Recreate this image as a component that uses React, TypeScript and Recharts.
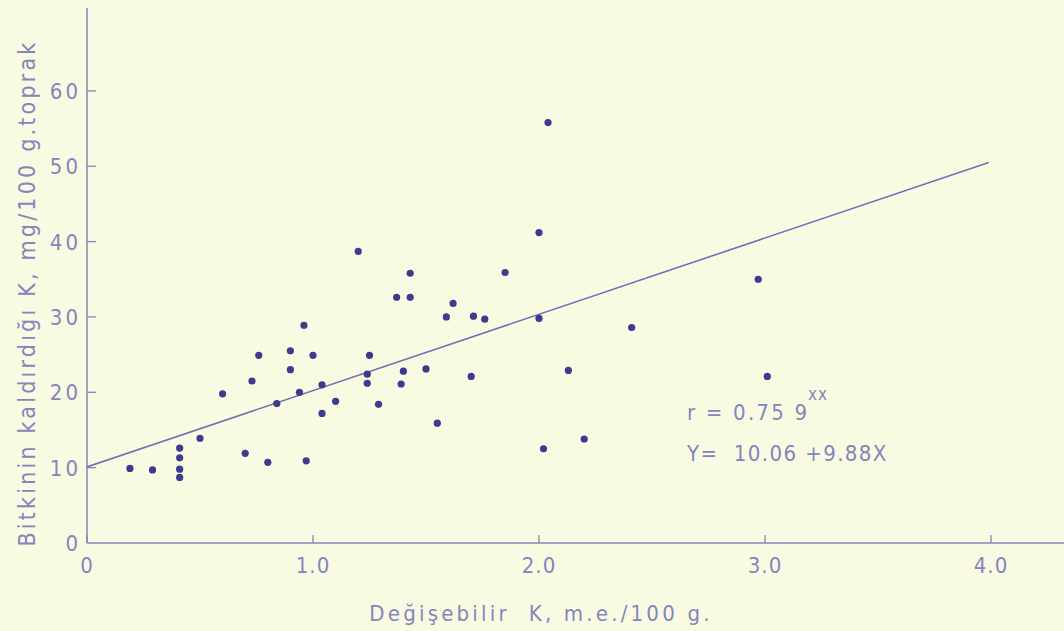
import React from 'react';
import { ScatterChart, Scatter, XAxis, YAxis } from 'recharts';

// exchangeable K (m.e./100 g) vs K taken up by plants (mg/100 g soil)
const exchK = [
  0.19, 0.29, 0.41, 0.41, 0.41, 0.41, 0.50, 0.60, 0.70, 0.73, 0.76, 0.80,
  0.84, 0.90, 0.90, 0.94, 0.96, 0.97, 1.00, 1.04, 1.04, 1.10, 1.20, 1.24,
  1.24, 1.25, 1.29, 1.37, 1.39, 1.40, 1.43, 1.43, 1.50, 1.55, 1.59, 1.62,
  1.70, 1.71, 1.76, 1.85, 2.00, 2.00, 2.02, 2.04, 2.13, 2.20, 2.41, 2.97, 3.01,
];
const plantK = [
  9.9, 9.7, 12.6, 11.3, 9.8, 8.7, 13.9, 19.8, 11.9, 21.5, 24.9, 10.7,
  18.5, 23.0, 25.5, 20.0, 28.9, 10.9, 24.9, 21.0, 17.2, 18.8, 38.7, 22.4,
  21.2, 24.9, 18.4, 32.6, 21.1, 22.8, 32.6, 35.8, 23.1, 15.9, 30.0, 31.8,
  22.1, 30.1, 29.7, 35.9, 29.8, 41.2, 12.5, 55.8, 22.9, 13.8, 28.6, 35.0, 22.1,
];

// regression line endpoints
const lineX = [0, 3.99];
const lineY = [10.1, 50.5];

const xTicks = [0, 1, 2, 3, 4];
const yTicks = [0, 10, 20, 30, 40, 50, 60];

const points = exchK.map((x, i) => ({ x, y: plantK[i] }));
const regression = lineX.map((x, i) => ({ x, y: lineY[i] }));

const BG = '#f8fbe1';
const INK = '#8386bd';
const DOT = '#3c3b8e';
const FONT = '"DejaVu Sans Condensed", "DejaVu Sans", sans-serif';

const XTick = (props: any) => {
  const { x, y, payload } = props;
  return (
    <g>
      <line x1={x} y1={y} x2={x} y2={y - 8} stroke={INK} strokeWidth={1.3} />
      <text x={x} y={y + 30} textAnchor="middle" fill={INK} fontSize={22} fontFamily={FONT} letterSpacing={1}>
        {payload.value === 0 ? '0' : payload.value.toFixed(1)}
      </text>
    </g>
  );
};

const YTick = (props: any) => {
  const { x, y, payload } = props;
  return (
    <g>
      {payload.value !== 0 && <line x1={x} y1={y} x2={x + 9} y2={y} stroke={INK} strokeWidth={1.3} />}
      <text x={x - 6} y={y + 8} textAnchor="end" fill={INK} fontSize={22} fontFamily={FONT} letterSpacing={3}>
        {payload.value}
      </text>
    </g>
  );
};

const App: React.FC = () => {
  return (
    <div style={{ position: 'absolute', left: 0, top: 0, width: 1064, height: 631, background: BG }}>
      <ScatterChart width={1064} height={631} margin={{ top: 8, right: 0, left: 0, bottom: 0 }}>
        <XAxis
          type="number"
          dataKey="x"
          domain={[0, 4.323]}
          ticks={xTicks}
          height={88}
          tickSize={0}
          tickMargin={0}
          tick={<XTick />}
          stroke={INK}
          strokeWidth={1.5}
          allowDataOverflow
          label={{
            content: () => (
              <text x={541} y={621} textAnchor="middle" fill={INK} fontSize={22} fontFamily={FONT} letterSpacing={3.2} style={{ whiteSpace: 'pre' }}>
                Değişebilir  K, m.e./100 g.
              </text>
            ),
          }}
        />
        <YAxis
          type="number"
          dataKey="y"
          domain={[0, 71]}
          ticks={yTicks}
          width={87}
          tickSize={0}
          tickMargin={0}
          tick={<YTick />}
          stroke={INK}
          strokeWidth={1.5}
          allowDataOverflow
          label={{
            content: () => (
              <text
                x={28}
                y={293}
                transform="rotate(-90 28 293)"
                textAnchor="middle"
                dominantBaseline="middle"
                fill={INK}
                fontSize={23}
                fontFamily={FONT}
                letterSpacing={3.2}
              >
                Bitkinin kaldırdığı K, mg/100 g.toprak
              </text>
            ),
          }}
        />
        <Scatter
          data={regression}
          line={{ stroke: '#6f71b2', strokeWidth: 1.6 }}
          shape={() => <g />}
          isAnimationActive={false}
        />
        <Scatter
          data={points}
          fill={DOT}
          shape={(p: any) => <circle cx={p.cx} cy={p.cy} r={3.6} fill={DOT} />}
          isAnimationActive={false}
        />
      </ScatterChart>
      <div
        style={{
          position: 'absolute',
          left: 687,
          top: 400,
          color: INK,
          fontFamily: FONT,
          fontSize: 22,
          letterSpacing: 2.2,
          whiteSpace: 'pre',
        }}
      >
        r = 0.75 9
      </div>
      <div
        style={{
          position: 'absolute',
          left: 808,
          top: 384,
          color: INK,
          fontFamily: FONT,
          fontSize: 17,
          letterSpacing: 1,
          whiteSpace: 'pre',
        }}
      >
        xx
      </div>
      <div
        style={{
          position: 'absolute',
          left: 687,
          top: 441,
          color: INK,
          fontFamily: FONT,
          fontSize: 22,
          letterSpacing: 1.4,
          whiteSpace: 'pre',
        }}
      >
        Y=  10.06 +9.88X
      </div>
    </div>
  );
};

export default App;
